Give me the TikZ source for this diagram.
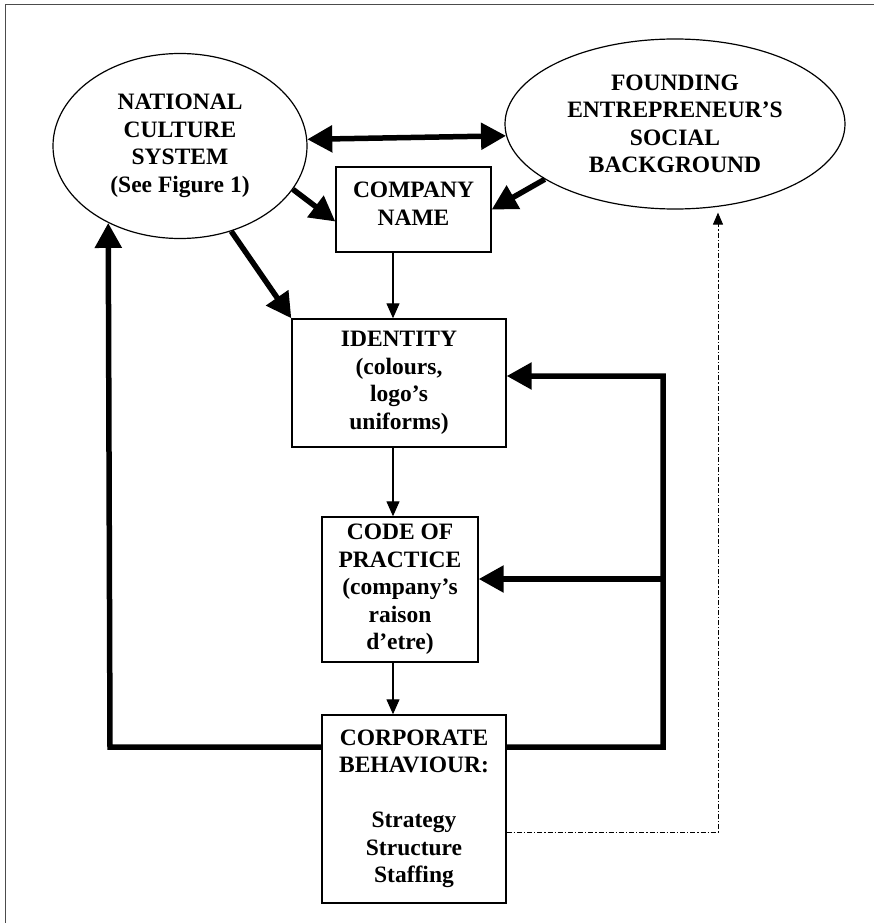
\documentclass[tikz,border=0pt]{standalone}
\usepackage{fontspec}
\setmainfont{Liberation Serif}
\usetikzlibrary{shapes.geometric,arrows.meta,calc,backgrounds}
\begin{document}
\begin{tikzpicture}[x=1pt,y=-1pt,
  lbl/.style={font=\bfseries\fontsize{23.5}{27.5}\selectfont, align=center, inner sep=0pt},
  box/.style={lbl, draw, line width=1.4pt, fill=white},
  oval/.style={lbl, draw, ellipse, line width=1.2pt, fill=white},
  slim/.style={line width=1.2pt, -{Triangle[length=15pt,width=13pt]}},
  heavy/.style={line width=5.5pt, line join=miter},
  bigtip/.tip={Triangle[length=25pt,width=26pt]},
  heavyarrow/.style={heavy, -bigtip},
  dashdotline/.style={line width=1pt, dash pattern=on 5pt off 2pt on 1.2pt off 2pt, -{Triangle[length=12pt,width=10pt]}}
]
\useasboundingbox (0,0) rectangle (873,923);

% nodes
\node[oval, minimum width=254pt, minimum height=185pt] (nc) at (180,146) {NATIONAL\\CULTURE\\SYSTEM\\(See Figure 1)};
\node[oval, minimum width=340pt, minimum height=170pt] (fe) at (675,124) {FOUNDING\\ENTREPRENEUR’S\\SOCIAL\\BACKGROUND};
\node[box, minimum width=155pt, minimum height=85pt, text depth=12pt] (cn) at (413.5,209.5) {COMPANY\\NAME};
\node[box, minimum width=214pt, minimum height=128pt] (id) at (399,383) {IDENTITY\\(colours,\\logo’s\\uniforms)};
\node[box, minimum width=156pt, minimum height=145pt] (cp) at (400,589.5) {CODE OF\\PRACTICE\\(company’s\\raison\\d’etre)};
\node[box, minimum width=184pt, minimum height=188pt] (cb) at (414,809) {CORPORATE\\BEHAVIOUR:\\[27.5pt]Strategy\\Structure\\Staffing};

% helper coordinates
\coordinate (vx) at (393,0);
\coordinate (fbL) at (110,747);
\coordinate (fbR) at (663,747);
\coordinate (r1) at (663,376);
\coordinate (r2) at (663,579);
\coordinate (dd) at (718,832);

\begin{pgfonlayer}{background}
  \draw[line width=1.5pt, draw=black!70] (5.5,940) -- (5.5,4.5) -- (890,4.5);
  \draw[heavy, bigtip-bigtip] (r1 -| id.east) -- (r1) -- (fbR) -- (fbL) -- (nc.227.7);
  \draw[heavyarrow] (r2) -- (r2 -| cp.east);
\end{pgfonlayer}

% connectors
\draw[heavy, bigtip-bigtip] (nc.3.5) -- (fe.184.7);
\draw[heavyarrow] (nc.-21.8) -- ($(cn.west)+(0,12)$);
\draw[heavyarrow] (fe.203.5) -- (cn.east);
\draw[heavyarrow] (nc.-59.3) -- (id.north west);
\draw[slim] (cn.south -| vx) -- (id.north -| vx);
\draw[slim] (id.south -| vx) -- (cp.north -| vx);
\draw[slim] (cp.south -| vx) -- (cb.north -| vx);
\draw[dashdotline] (cb.east |- dd) -- (dd) -- ($(dd |- fe.south)+(0,3)$);
\end{tikzpicture}
\end{document}
